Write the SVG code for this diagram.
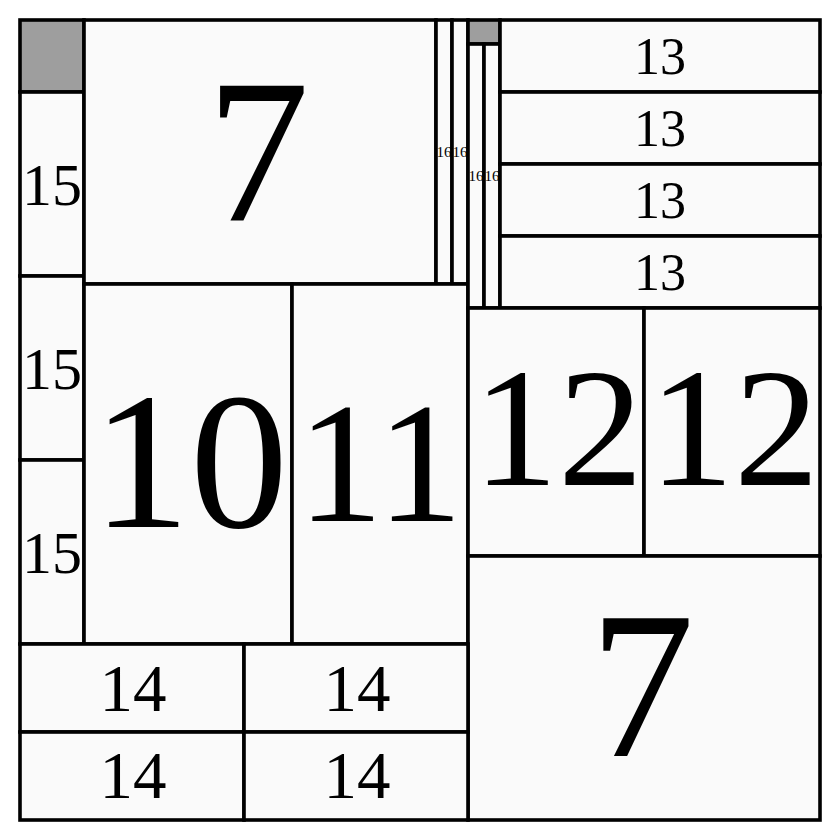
<svg xmlns="http://www.w3.org/2000/svg" width="840" height="840" viewBox="0 0 840 840">
<style>
.c{fill:#fafafa;stroke:#000;stroke-width:3.6}
.g{fill:#9e9e9e;stroke:#000;stroke-width:3.6}
text{font-family:"Liberation Serif","Times New Roman",serif;text-anchor:middle;fill:#000}
</style>
<rect x="0" y="0" width="840" height="840" fill="#fff"/>
<g id="grey1"><rect class="g" x="20" y="20" width="64" height="72"/></g>
<g id="n15a"><rect class="c" x="20" y="92" width="64" height="184"/><text x="52" y="205" font-size="60">15</text></g>
<g id="n15b"><rect class="c" x="20" y="276" width="64" height="184"/><text x="52" y="389" font-size="60">15</text></g>
<g id="n15c"><rect class="c" x="20" y="460" width="64" height="184"/><text x="52" y="573" font-size="60">15</text></g>
<g id="n7a"><rect class="c" x="84" y="20" width="352" height="264"/><text x="258" y="220" font-size="206">7</text></g>
<g id="n16a"><rect class="c" x="436" y="20" width="16" height="264"/><text x="444" y="157" font-size="15">16</text></g>
<g id="n16b"><rect class="c" x="452" y="20" width="16" height="264"/><text x="460" y="157" font-size="15">16</text></g>
<g id="n10"><rect class="c" x="84" y="284" width="208" height="360"/><text x="190" y="527" font-size="196">10</text></g>
<g id="n11"><rect class="c" x="292" y="284" width="176" height="360"/><text x="380" y="521" font-size="172">11</text></g>
<g id="grey2"><rect class="g" x="468" y="20" width="32" height="24"/></g>
<g id="n16c"><rect class="c" x="468" y="44" width="16" height="264"/><text x="476" y="181" font-size="15">16</text></g>
<g id="n16d"><rect class="c" x="484" y="44" width="16" height="264"/><text x="492" y="181" font-size="15">16</text></g>
<g id="n13a"><rect class="c" x="500" y="20" width="320" height="72"/><text x="660" y="74" font-size="52">13</text></g>
<g id="n13b"><rect class="c" x="500" y="92" width="320" height="72"/><text x="660" y="146" font-size="52">13</text></g>
<g id="n13c"><rect class="c" x="500" y="164" width="320" height="72"/><text x="660" y="218" font-size="52">13</text></g>
<g id="n13d"><rect class="c" x="500" y="236" width="320" height="72"/><text x="660" y="290" font-size="52">13</text></g>
<g id="n12a"><rect class="c" x="468" y="308" width="176" height="248"/><text x="558" y="485" font-size="170">12</text></g>
<g id="n12b"><rect class="c" x="644" y="308" width="176" height="248"/><text x="734" y="485" font-size="170">12</text></g>
<g id="n7b"><rect class="c" x="468" y="556" width="352" height="264"/><text x="642" y="756" font-size="210">7</text></g>
<g id="n14a"><rect class="c" x="20" y="644" width="224" height="88"/><text x="133" y="711" font-size="67">14</text></g>
<g id="n14b"><rect class="c" x="244" y="644" width="224" height="88"/><text x="357" y="711" font-size="67">14</text></g>
<g id="n14c"><rect class="c" x="20" y="732" width="224" height="88"/><text x="133" y="798" font-size="67">14</text></g>
<g id="n14d"><rect class="c" x="244" y="732" width="224" height="88"/><text x="357" y="798" font-size="67">14</text></g>
<g id="connectors"></g>
</svg>
